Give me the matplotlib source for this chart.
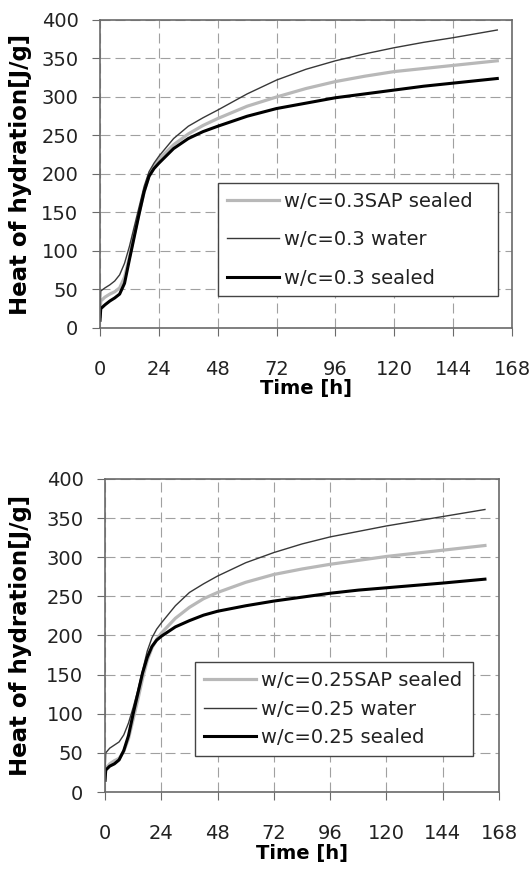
import matplotlib
matplotlib.use("Agg")
import matplotlib.pyplot as plt

# time axis [h], same for all series
t = [0, 0.3, 2, 4, 6, 8, 10, 12, 14, 16, 18, 20, 22, 24, 30, 36, 42, 48,
     60, 72, 84, 96, 108, 120, 132, 144, 162]

# w/c = 0.3
q30_sap = [15, 35, 40, 44, 47, 52, 66, 92, 122, 150, 177, 198, 210, 219, 238, 252,
           263, 272, 288, 300, 311, 320, 327, 333, 337, 341, 347]
q30_water = [15, 48, 52, 56, 61, 69, 84, 106, 132, 158, 184, 203, 214, 223, 246, 262,
             273, 283, 304, 322, 336, 347, 356, 364, 371, 377, 387]
q30_sealed = [10, 25, 30, 35, 39, 44, 58, 89, 119, 149, 177, 197, 207, 214, 233, 246,
              255, 262, 275, 285, 292, 299, 304, 309, 314, 318, 324]

# w/c = 0.25
q25_sap = [15, 30, 36, 40, 43, 52, 68, 93, 118, 145, 168, 184, 195, 203, 222, 236,
           247, 255, 268, 278, 285, 291, 296, 301, 305, 309, 315]
q25_water = [20, 50, 56, 60, 64, 73, 88, 108, 130, 155, 180, 197, 208, 216, 238, 255,
             266, 276, 293, 306, 317, 326, 333, 340, 346, 352, 361]
q25_sealed = [15, 28, 33, 36, 41, 53, 72, 100, 126, 152, 172, 186, 194, 199, 211, 219,
              226, 231, 238, 244, 249, 254, 258, 261, 264, 267, 272]

xticks = [0, 24, 48, 72, 96, 120, 144, 168]
yticks = [0, 50, 100, 150, 200, 250, 300, 350, 400]


def draw_panel(ax, sap, water, sealed, wc, leg_x, leg_top, leg_w, spacing, ylab_x):
    ax.plot(t, sap, color='#b8b8b8', lw=2.3, label='w/c=%sSAP sealed' % wc)
    ax.plot(t, water, color='#383838', lw=1.0, label='w/c=%s water' % wc)
    ax.plot(t, sealed, color='black', lw=2.2, label='w/c=%s sealed' % wc)
    ax.set_xlim(0, 168)
    ax.set_ylim(0, 400)
    ax.set_xticks(xticks)
    ax.set_yticks(yticks)
    ax.grid(True, color='#a0a0a0', ls=(0, (9, 4.5)), lw=0.8)
    ax.set_axisbelow(True)
    ax.tick_params(axis='x', direction='out', length=6, width=0.8, pad=17,
                   labelsize=14, colors='#6a6a6a', labelcolor='#222222')
    ax.tick_params(axis='y', direction='out', length=6, width=0.8, pad=9.5,
                   labelsize=14, colors='#6a6a6a', labelcolor='#222222')
    for side in ax.spines:
        ax.spines[side].set_color('#6a6a6a')
        ax.spines[side].set_linewidth(1.2)
    ax.set_xlabel('Time [h]', fontsize=14, fontweight='bold')
    ax.xaxis.set_label_coords(0.5, -0.167)
    ax.set_ylabel('Heat of hydration[J/g]', fontsize=16.5, fontweight='bold')
    ax.yaxis.set_label_coords(ylab_x, 0.5)
    leg = ax.legend(loc='upper left', bbox_to_anchor=(leg_x, leg_top, leg_w, 0),
                    mode='expand', fontsize=14, frameon=True, fancybox=False,
                    handlelength=2.7, handletextpad=0.25, borderaxespad=0,
                    borderpad=0.45, labelspacing=spacing)
    for txt in leg.get_texts():
        txt.set_color('#222222')
    leg.get_frame().set_edgecolor('#444444')
    leg.get_frame().set_linewidth(1.0)
    leg.get_frame().set_alpha(1)


fig = plt.figure(figsize=(5.32, 8.69), dpi=100)
ax1 = fig.add_axes([0.188, 0.6226, 0.7744, 0.3544])
ax2 = fig.add_axes([0.1974, 0.0886, 0.7406, 0.3602])

draw_panel(ax1, q30_sap, q30_water, q30_sealed, '0.3', 0.286, 0.471, 0.68, 1.0, -0.165)
draw_panel(ax2, q25_sap, q25_water, q25_sealed, '0.25', 0.228, 0.415, 0.706, 0.5, -0.185)

fig.savefig('out.png', dpi=100)
